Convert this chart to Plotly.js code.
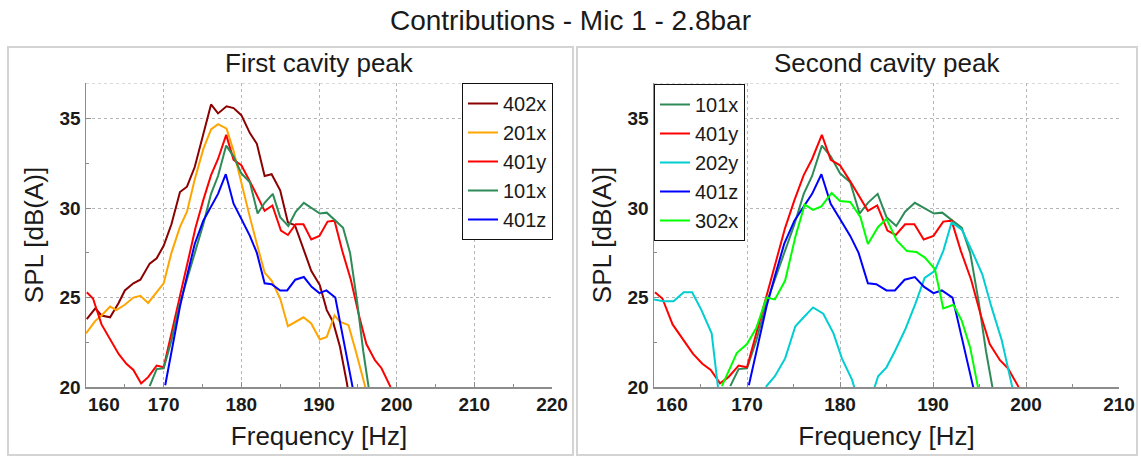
<!DOCTYPE html>
<html>
<head>
<meta charset="utf-8">
<script src="https://cdn.plot.ly/plotly-3.0.1.min.js"></script>
<style>html,body{margin:0;padding:0;background:#fff;}#chart{width:1141px;height:458px;}</style>
</head>
<body>
<div id="chart"></div>
<script>
// ---- data (frequency in Hz, SPL in dB(A)) ----
const f_402x = [160.1,161.2,162.0,163.1,164.2,165.0,166.1,167.0,168.2,169.1,170.0,171.0,172.1,173.0,174.0,175.1,176.1,177.0,178.1,179.0,180.0,181.1,182.0,183.0,183.9,185.0,186.0,186.9,188.0,189.0,190.1,191.0,191.8,192.7,193.6,194.2];
const v_402x = [23.8,24.4,24.0,23.9,24.7,25.4,25.8,26.0,26.9,27.2,27.9,29.1,30.9,31.2,32.3,34.1,35.8,35.3,35.7,35.6,35.2,34.2,33.6,31.8,31.9,31.0,29.2,29.05,27.65,26.5,25.7,24.3,23.65,22.25,20.2,18.5];

const f_201x = [160.0,161.2,162.0,163.1,163.9,165.0,166.1,167.0,168.0,169.1,170.0,171.0,172.1,173.0,174.0,175.1,176.1,177.0,178.1,179.0,180.0,181.1,182.0,183.0,183.9,185.0,186.0,188.0,189.0,190.1,191.0,192.0,192.7,193.8,194.8,195.9,196.5];
const v_201x = [23.0,23.7,24.0,24.5,24.3,24.6,25.0,25.1,24.7,25.3,25.8,27.5,28.95,29.8,31.6,33.3,34.4,34.7,34.45,33.2,31.4,29.5,28.0,26.4,25.95,24.95,23.4,23.9,23.55,22.66,22.8,24.0,23.65,23.46,21.9,20.1,18.5];

const f_401y = [160.1,160.9,162.0,163.1,164.2,165.2,166.1,167.1,168.0,169.1,170.0,171.0,172.1,173.1,174.1,175.1,176.1,177.0,178.05,179.0,180.0,181.1,182.1,183.0,184.0,185.1,186.0,187.0,188.0,189.0,190.05,191.1,192.0,193.0,194.1,195.15,196.1,197.2,198.05,199.15,199.8];
const v_401y = [25.3,24.95,23.5,22.65,21.85,21.3,20.95,20.2,20.55,21.2,21.1,23.0,25.1,26.9,28.9,30.45,31.85,32.75,34.1,32.7,32.4,31.5,30.6,29.85,30.15,28.75,28.5,29.1,29.1,28.25,28.45,29.25,29.3,27.6,26.0,24.0,22.4,21.5,21.05,20.05,19.0];

const f_101x = [168.2,169.1,170.0,171.0,172.1,173.0,174.0,175.1,176.1,177.0,178.05,179.0,180.0,181.1,182.1,183.0,184.05,185.0,186.05,187.0,188.05,189.05,190.1,191.0,192.1,193.1,194.0,194.9,195.7,196.35,196.9];
const v_101x = [20.05,21.0,21.05,22.6,24.7,26.0,27.5,29.1,30.8,31.8,33.5,32.9,31.95,31.45,29.7,30.3,30.8,29.5,29.0,29.8,30.3,30.0,29.7,29.75,29.3,28.9,27.5,24.8,22.0,20.05,18.5];

const f_401z = [170.2,171.0,172.1,173.0,174.0,175.1,176.1,177.0,178.0,179.0,180.0,181.1,182.0,183.0,183.9,185.0,185.9,186.95,188.05,189.05,190.05,190.95,192.1,193.0,193.7,194.3,194.8];
const v_401z = [20.1,21.9,24.5,26.2,28.0,29.3,30.1,30.8,31.9,30.25,29.4,28.45,27.5,25.8,25.75,25.4,25.4,26.0,26.15,25.6,25.25,25.4,25.0,23.0,21.3,20.05,18.5];

const f_202y = [160.0,161.0,162.1,163.2,164.1,165.1,166.2,167.1,169.5,171.2,172.1,173.0,174.1,175.2,176.1,177.1,178.2,179.3,180.2,181.3,182.2,183.1,184.1,185.0,185.9,187.0,188.1,189.1,190.2,191.1,192.0,193.1,194.2,195.3,196.3,197.4,198.5,199.0];
const v_202y = [24.9,24.8,24.8,25.3,25.3,24.3,23.0,19.0,17.0,18.5,20.05,20.6,21.6,23.4,23.9,24.45,24.1,23.0,21.6,20.4,18.8,19.0,20.6,21.1,22.0,23.2,24.65,26.1,26.5,27.6,29.2,28.8,27.6,26.3,24.45,22.6,20.05,18.5];

const f_302x = [167.3,168.0,168.9,170.0,171.0,172.1,173.0,174.1,175.2,176.2,177.1,178.0,179.1,180.0,181.1,182.2,183.0,184.1,185.0,186.1,187.2,188.2,189.1,190.2,191.1,192.2,193.1,194.0,194.9,195.4];
const v_302x = [20.05,20.9,21.9,22.4,23.3,25.0,24.9,25.95,28.4,30.2,29.9,30.1,30.85,30.4,30.35,29.5,28.0,28.95,29.4,28.2,27.6,27.55,27.25,26.6,24.4,24.6,23.7,22.2,20.05,18.5];

const leftSeries  = ['402x','201x','401y','101x','401z'];
const rightSeries = ['101x','401y','202y','401z','302x'];
const xTicksLeft  = [160,170,180,190,200,210,220];
const xTicksRight = [160,170,180,190,200,210];
const yTicks = [20,25,30,35];

const data = {
  '402x':[f_402x,v_402x], '201x':[f_201x,v_201x], '401y':[f_401y,v_401y],
  '101x':[f_101x,v_101x], '401z':[f_401z,v_401z], '202y':[f_202y,v_202y], '302x':[f_302x,v_302x]
};
const colors = {'402x':'#8B0000','201x':'#FFA500','401y':'#FF0000','101x':'#2E8B57','401z':'#0000FF','202y':'#00CED1','302x':'#00FF00'};

const traces = [];
leftSeries.forEach(n => traces.push({x:data[n][0], y:data[n][1], name:n, type:'scatter', mode:'lines',
  line:{color:colors[n], width:2}, xaxis:'x', yaxis:'y', legend:'legend'}));
rightSeries.forEach(n => traces.push({x:data[n][0], y:data[n][1], name:n, type:'scatter', mode:'lines',
  line:{color:colors[n], width:2}, xaxis:'x2', yaxis:'y2', legend:'legend2'}));

const W = 1141, H = 458;
const FONT = 'Liberation Sans, Arial, Helvetica, sans-serif';
const TXT = '#1a1a1a';
const px = v => v / W, py = v => (H - v) / H;

// first x tick label (160) is drawn as a shifted annotation, like the reference
function lbl(ticks){ return ticks.map((t,i)=> i===0 ? '' : String(t)); }
const tickFont = {family:FONT, size:19, color:TXT, weight:'bold'};

const axisCommon = {
  showline:true, linecolor:'#8c8c8c', linewidth:1.5,
  ticks:'inside', ticklen:5, tickcolor:'#8c8c8c', tickwidth:1,
  showgrid:true, gridcolor:'#b5b5b5', griddash:'dot', gridwidth:1,
  zeroline:false, tickfont:tickFont, fixedrange:true
};
const titleFont = {size:26, family:FONT, color:TXT};

const layout = {
  width:W, height:H, margin:{l:0,r:0,t:0,b:0}, paper_bgcolor:'#fff', plot_bgcolor:'#fff',
  font:{family:FONT, color:TXT},
  title:{text:'Contributions - Mic 1 - 2.8bar', x:0.5, xanchor:'center', y:py(20), yanchor:'middle', font:{size:28, family:FONT, color:TXT}},
  xaxis:Object.assign({}, axisCommon, {domain:[px(86),px(552)], range:[160,220], anchor:'y',
    tickvals:xTicksLeft, ticktext:lbl(xTicksLeft), minor:{ticks:'inside', ticklen:3, tickcolor:'#8c8c8c', dtick:5, showgrid:false},
    title:{text:'Frequency [Hz]', font:titleFont, standoff:12}}),
  yaxis:Object.assign({}, axisCommon, {domain:[py(387),py(83)], range:[20,37], anchor:'x',
    tickvals:yTicks, minor:{ticks:'inside', ticklen:3, tickcolor:'#8c8c8c', dtick:2.5, showgrid:false},
    title:{text:'SPL [dB(A)]', font:titleFont, standoff:8}}),
  xaxis2:Object.assign({}, axisCommon, {domain:[px(654),px(1119)], range:[160,210], anchor:'y2',
    tickvals:xTicksRight, ticktext:lbl(xTicksRight), minor:{ticks:'inside', ticklen:3, tickcolor:'#8c8c8c', dtick:5, showgrid:false},
    title:{text:'Frequency [Hz]', font:titleFont, standoff:12}}),
  yaxis2:Object.assign({}, axisCommon, {domain:[py(387),py(83)], range:[20,37], anchor:'x2',
    tickvals:yTicks, minor:{ticks:'inside', ticklen:3, tickcolor:'#8c8c8c', dtick:2.5, showgrid:false},
    title:{text:'SPL [dB(A)]', font:titleFont, standoff:8}}),
  legend:{x:px(553), xanchor:'right', y:py(83), yanchor:'top', bgcolor:'#fff', bordercolor:'#111', borderwidth:1,
    font:{size:20, family:FONT, color:TXT}, tracegroupgap:0},
  legend2:{x:px(654), xanchor:'left', y:py(84), yanchor:'top', bgcolor:'#fff', bordercolor:'#111', borderwidth:1,
    font:{size:20, family:FONT, color:TXT}, tracegroupgap:0},
  annotations:[
    {text:'First cavity peak', xref:'paper', yref:'paper', x:px(319), y:py(63), xanchor:'center', yanchor:'middle', showarrow:false, font:titleFont},
    {text:'Second cavity peak', xref:'paper', yref:'paper', x:px(886.5), y:py(63), xanchor:'center', yanchor:'middle', showarrow:false, font:titleFont},
    {text:String(xTicksLeft[0]), xref:'x', yref:'paper', x:xTicksLeft[0], xshift:18, y:py(404), xanchor:'center', yanchor:'middle', showarrow:false, font:tickFont},
    {text:String(xTicksRight[0]), xref:'x2', yref:'paper', x:xTicksRight[0], xshift:18, y:py(404), xanchor:'center', yanchor:'middle', showarrow:false, font:tickFont}
  ],
  shapes:[
    {type:'rect', xref:'paper', yref:'paper', x0:px(8), x1:px(573), y0:py(455), y1:py(47), line:{color:'#d4d4d4', width:2}, layer:'below'},
    {type:'rect', xref:'paper', yref:'paper', x0:px(577), x1:px(1137), y0:py(455), y1:py(47), line:{color:'#d4d4d4', width:2}, layer:'below'},
    {type:'line', xref:'x', yref:'y', x0:160, x1:220, y0:37, y1:37, line:{color:'#b5b5b5', width:1, dash:'dot'}},
    {type:'line', xref:'x2', yref:'y2', x0:160, x1:210, y0:37, y1:37, line:{color:'#b5b5b5', width:1, dash:'dot'}}
  ],
  showlegend:true
};

Plotly.newPlot('chart', traces, layout, {staticPlot:true, displayModeBar:false});
</script>
</body>
</html>
